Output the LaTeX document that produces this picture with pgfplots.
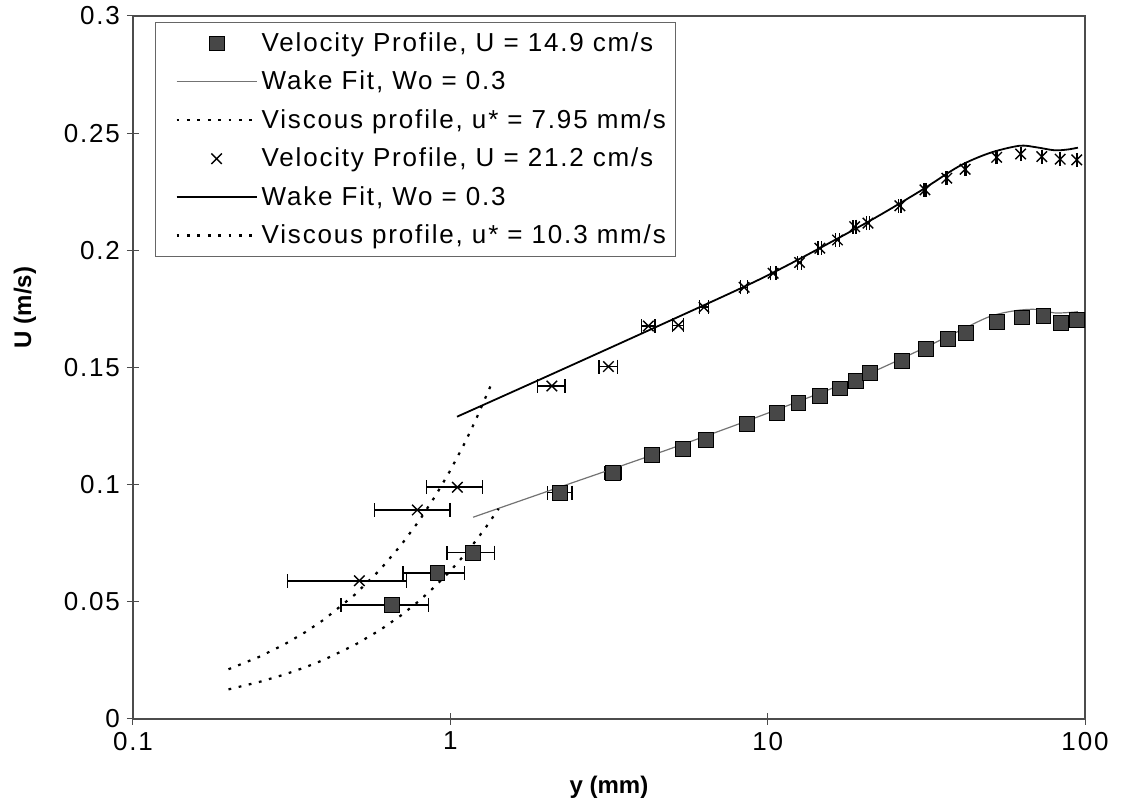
\documentclass[border=0pt]{standalone}
\usepackage{fontspec}
\setmainfont{Liberation Sans}
\newfontfamily\chartfont[LetterSpace=7]{Liberation Sans}
\usepackage{pgfplots}
\pgfplotsset{compat=1.18}

\begin{document}
\begin{tikzpicture}
\begin{axis}[
  scale only axis, width=476pt, height=351.5pt,
  xmode=log, xmin=0.1, xmax=100, ymin=0, ymax=0.3,
  xtick={0.1,1,10,100}, xticklabels={0.1,1,10,100},
  xminorticks=false,
  ytick={0,0.05,0.1,0.15,0.2,0.25,0.3},
  yticklabels={0,0.05,0.1,0.15,0.2,0.25,0.3},
  tick pos=left, tick align=center, major tick length=6pt,
  tick style={black!70, line width=0.5pt},
  axis line style={black!70, line width=0.6pt},
  ticklabel style={font=\chartfont\fontsize{13}{15}\selectfont},
  label style={font=\fontsize{12}{14}\selectfont\bfseries},
  xlabel={y (mm)}, ylabel={U (m/s)},
  xlabel style={yshift=-6pt},
  ylabel style={yshift=7pt, xshift=30pt},
  legend cell align=left,
  legend style={at={(rel axis cs:0.0231,0.9915)}, anchor=north west,
    draw=black!60, line width=0.5pt, font=\chartfont\fontsize{13}{15}\selectfont,
    inner xsep=3pt, inner ysep=3pt, row sep=4.3pt},
  legend image code/.code={\path (0pt,0pt);
    \draw[mark repeat=2,mark phase=2,#1]
    plot coordinates {(7pt,0pt) (27pt,0pt) (47pt,0pt)};},
]

% U = 14.9 cm/s measurements
\addplot[only marks, mark=square*, mark size=3.7pt,
  mark options={fill=black!72, draw=black, line width=0.4pt},
  error bars/.cd, x dir=both, x explicit,
  error mark options={rotate=90, mark size=3.5pt, line width=0.7pt, black},
  error bar style={line width=0.8pt, black}]
coordinates {
(0.653,0.0487) +- (0.2,0)
(0.91,0.0622) +- (0.2,0)
(1.177,0.0710) +- (0.2,0)
(2.22,0.0966) +- (0.2,0)
(3.26,0.1051) +- (0.2,0)
(4.31,0.1127) +- (0.2,0)
(5.40,0.1151) +- (0.2,0)
(6.40,0.1191) +- (0.2,0)
(8.59,0.1259) +- (0.2,0)
(10.7,0.1307) +- (0.2,0)
(12.5,0.1350) +- (0.2,0)
(14.6,0.1379) +- (0.2,0)
(16.9,0.1411) +- (0.2,0)
(19.0,0.1444) +- (0.2,0)
(21.0,0.1478) +- (0.2,0)
(26.5,0.1529) +- (0.2,0)
(31.5,0.1578) +- (0.2,0)
(36.9,0.1621) +- (0.2,0)
(42.2,0.1649) +- (0.2,0)
(52.9,0.1696) +- (0.2,0)
(63.1,0.1714) +- (0.2,0)
(73.9,0.1720) +- (0.2,0)
(83.9,0.1689) +- (0.2,0)
(94.2,0.1703) +- (0.2,0)
};
\addlegendentry{Velocity Profile, U = 14.9 cm/s}

% wake fit for the slower run
\addplot[black!55, line width=0.6pt, smooth] coordinates {
(1.18,0.0861) (2,0.0969) (5,0.1156) (10,0.1305) (20,0.1464)
(30,0.1573) (40,0.1655) (50,0.1717) (60,0.1742) (70,0.1748)
(80,0.1733) (90,0.1735) (95,0.1738)
};
\addlegendentry{Wake Fit, Wo = 0.3}

% viscous sublayer, u* = 7.95 mm/s
\addplot[black, line width=1.1pt, dash pattern=on 1.4pt off 3.8pt] coordinates {
(0.2,0.01264) (0.25,0.01580) (0.3,0.01896) (0.35,0.02212) (0.4,0.02528)
(0.5,0.03160) (0.6,0.03792) (0.7,0.04424) (0.8,0.05056) (0.9,0.05688)
(1.0,0.06320) (1.1,0.06952) (1.2,0.07584) (1.3,0.08216) (1.42,0.08975)
};
\addlegendentry{Viscous profile, u* = 7.95 mm/s}

% U = 21.2 cm/s measurements
\addplot[only marks, mark=x, mark size=3.7pt,
  mark options={draw=black, line width=0.7pt},
  error bars/.cd, x dir=both, x explicit,
  error mark options={rotate=90, mark size=3.5pt, line width=0.7pt, black},
  error bar style={line width=0.8pt, black}]
coordinates {
(0.517,0.0590) +- (0.21,0)
(0.787,0.0892) +- (0.21,0)
(1.052,0.0989) +- (0.21,0)
(2.09,0.1421) +- (0.21,0)
(3.15,0.1504) +- (0.21,0)
(4.21,0.1677) +- (0.21,0)
(5.23,0.1680) +- (0.21,0)
(6.30,0.1757) +- (0.21,0)
(8.43,0.1842) +- (0.21,0)
(10.4,0.1902) +- (0.21,0)
(12.6,0.1948) +- (0.21,0)
(14.6,0.2009) +- (0.21,0)
(16.6,0.2044) +- (0.21,0)
(18.8,0.2101) +- (0.21,0)
(20.7,0.2116) +- (0.21,0)
(26.1,0.2190) +- (0.21,0)
(31.3,0.2258) +- (0.21,0)
(36.7,0.2308) +- (0.21,0)
(41.9,0.2346) +- (0.21,0)
(52.7,0.2397) +- (0.21,0)
(62.7,0.2411) +- (0.21,0)
(73.1,0.2400) +- (0.21,0)
(83.5,0.2389) +- (0.21,0)
(94.2,0.2386) +- (0.21,0)
};
\addlegendentry{Velocity Profile, U = 21.2 cm/s}

% wake fit for the faster run
\addplot[black, line width=0.9pt, smooth] coordinates {
(1.05,0.1290) (2,0.1460) (5,0.1704) (10,0.1893) (20,0.2110)
(30,0.2250) (40,0.2358) (50,0.2415) (62,0.2446) (70,0.2440)
(80,0.2427) (88,0.2430) (95,0.2438)
};
\addlegendentry{Wake Fit, Wo = 0.3}

% viscous sublayer, u* = 10.3 mm/s
\addplot[black, line width=1.1pt, dash pattern=on 1.4pt off 3.8pt] coordinates {
(0.2,0.02122) (0.25,0.02652) (0.3,0.03183) (0.35,0.03713) (0.4,0.04244)
(0.5,0.05305) (0.6,0.06365) (0.7,0.07426) (0.8,0.08487) (0.9,0.09548)
(1.0,0.10609) (1.1,0.11670) (1.2,0.12731) (1.35,0.14322)
};
\addlegendentry{Viscous profile, u* = 10.3 mm/s}

\coordinate (bbA) at (rel axis cs:0,0);
\coordinate (bbB) at (rel axis cs:1,1);
\end{axis}
\pgfresetboundingbox
\path[use as bounding box] ([shift={(-66.5pt,-43pt)}]bbA) rectangle ([shift={(21pt,8pt)}]bbB);
\end{tikzpicture}
\end{document}
